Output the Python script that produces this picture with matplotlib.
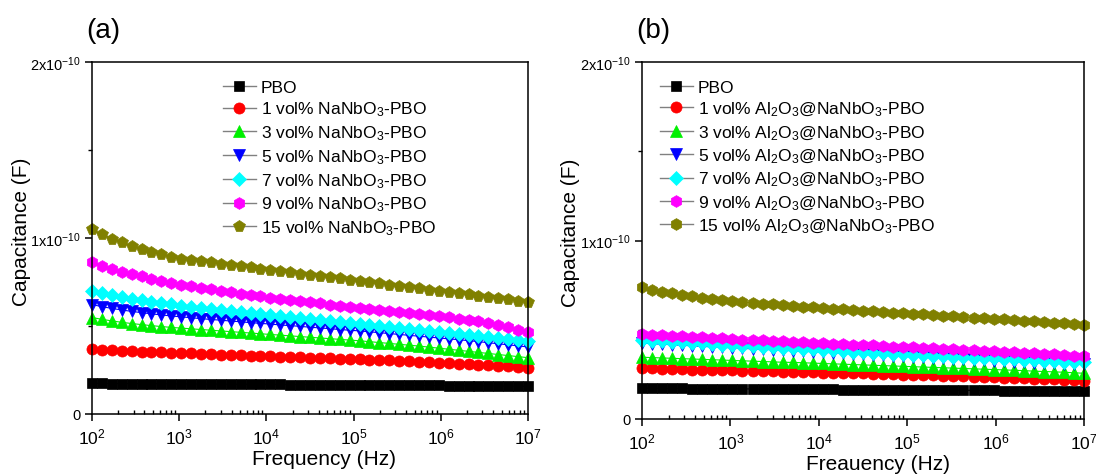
import numpy as np
import matplotlib
matplotlib.use("Agg")
import matplotlib.pyplot as plt
from matplotlib.ticker import FixedLocator, FixedFormatter, LogLocator, NullFormatter

plt.rcParams['font.family'] = ['Liberation Sans', 'DejaVu Sans']
plt.rcParams['mathtext.fontset'] = 'custom'
plt.rcParams['mathtext.rm'] = 'Liberation Sans'
plt.rcParams['mathtext.it'] = 'Liberation Sans:italic'
plt.rcParams['mathtext.bf'] = 'Liberation Sans:bold'

# ---------------- data ----------------
# 45-point logarithmic frequency sweep, 100 Hz .. 10 MHz
freq = np.logspace(2, 7, 45)
unit = 1e-11  # capacitance values below are in units of 1e-11 F

labels_a = ['PBO', '1 vol% NaNbO$_3$-PBO', '3 vol% NaNbO$_3$-PBO', '5 vol% NaNbO$_3$-PBO',
            '7 vol% NaNbO$_3$-PBO', '9 vol% NaNbO$_3$-PBO', '15 vol% NaNbO$_3$-PBO']
labels_b = ['PBO', '1 vol% Al$_2$O$_3$@NaNbO$_3$-PBO', '3 vol% Al$_2$O$_3$@NaNbO$_3$-PBO',
            '5 vol% Al$_2$O$_3$@NaNbO$_3$-PBO', '7 vol% Al$_2$O$_3$@NaNbO$_3$-PBO',
            '9 vol% Al$_2$O$_3$@NaNbO$_3$-PBO', '15 vol% Al$_2$O$_3$@NaNbO$_3$-PBO']

a_pbo = [1.74, 1.74, 1.73, 1.73, 1.73, 1.72, 1.72, 1.72, 1.71, 1.71, 1.71, 1.70, 1.70, 1.70, 1.69,
         1.69, 1.69, 1.68, 1.68, 1.68, 1.67, 1.67, 1.67, 1.66, 1.66, 1.66, 1.65, 1.65, 1.65, 1.64,
         1.64, 1.63, 1.63, 1.63, 1.62, 1.62, 1.61, 1.61, 1.60, 1.60, 1.59, 1.59, 1.58, 1.58, 1.57]
a_1 = [3.70, 3.66, 3.63, 3.60, 3.57, 3.55, 3.52, 3.50, 3.48, 3.46, 3.44, 3.42, 3.40, 3.38, 3.36,
       3.34, 3.32, 3.30, 3.28, 3.26, 3.24, 3.22, 3.20, 3.18, 3.16, 3.14, 3.12, 3.10, 3.08, 3.06,
       3.04, 3.02, 3.00, 2.97, 2.94, 2.91, 2.88, 2.85, 2.82, 2.79, 2.76, 2.73, 2.70, 2.67, 2.64]
a_3 = [5.48, 5.38, 5.29, 5.21, 5.14, 5.08, 5.02, 4.97, 4.92, 4.88, 4.84, 4.80, 4.76, 4.72, 4.68,
       4.64, 4.60, 4.56, 4.52, 4.48, 4.44, 4.40, 4.36, 4.32, 4.28, 4.24, 4.20, 4.16, 4.11, 4.06,
       4.01, 3.96, 3.91, 3.86, 3.80, 3.74, 3.68, 3.62, 3.56, 3.50, 3.44, 3.38, 3.32, 3.26, 3.20]
a_5 = [6.22, 6.10, 6.00, 5.91, 5.83, 5.76, 5.69, 5.63, 5.57, 5.52, 5.47, 5.42, 5.37, 5.33, 5.28,
       5.24, 5.19, 5.15, 5.11, 5.06, 5.02, 4.98, 4.93, 4.89, 4.85, 4.80, 4.76, 4.72, 4.67, 4.62,
       4.57, 4.52, 4.47, 4.42, 4.37, 4.32, 4.27, 4.22, 4.17, 4.11, 4.05, 3.99, 3.93, 3.87, 3.81]
a_7 = [7.00, 6.85, 6.74, 6.64, 6.55, 6.46, 6.38, 6.30, 6.23, 6.16, 6.10, 6.04, 5.98, 5.93, 5.87,
       5.81, 5.75, 5.70, 5.64, 5.58, 5.52, 5.47, 5.41, 5.35, 5.29, 5.24, 5.18, 5.12, 5.06, 5.01,
       4.95, 4.89, 4.83, 4.78, 4.72, 4.66, 4.60, 4.55, 4.49, 4.43, 4.37, 4.32, 4.26, 4.20, 4.14]
a_9 = [8.62, 8.42, 8.24, 8.09, 7.95, 7.82, 7.69, 7.57, 7.46, 7.35, 7.26, 7.17, 7.08, 7.00, 6.92,
       6.84, 6.76, 6.68, 6.61, 6.54, 6.47, 6.40, 6.34, 6.28, 6.22, 6.16, 6.10, 6.04, 5.98, 5.92,
       5.86, 5.80, 5.74, 5.68, 5.62, 5.56, 5.49, 5.42, 5.35, 5.27, 5.16, 5.05, 4.93, 4.80, 4.64]
a_15 = [10.50, 10.22, 9.97, 9.75, 9.55, 9.37, 9.21, 9.07, 8.94, 8.82, 8.75, 8.68, 8.61, 8.54, 8.47,
        8.40, 8.33, 8.26, 8.19, 8.12, 8.05, 7.98, 7.91, 7.84, 7.77, 7.70, 7.63, 7.56, 7.49, 7.42,
        7.35, 7.28, 7.21, 7.14, 7.07, 7.00, 6.93, 6.86, 6.79, 6.72, 6.65, 6.58, 6.51, 6.44, 6.37]

b_pbo = [1.72, 1.72, 1.71, 1.71, 1.71, 1.70, 1.70, 1.70, 1.69, 1.69, 1.69, 1.68, 1.68, 1.68, 1.67,
         1.67, 1.67, 1.66, 1.66, 1.66, 1.65, 1.65, 1.65, 1.64, 1.64, 1.64, 1.63, 1.63, 1.63, 1.62,
         1.62, 1.61, 1.61, 1.61, 1.60, 1.60, 1.59, 1.59, 1.58, 1.58, 1.57, 1.57, 1.56, 1.56, 1.55]
b_1 = [2.84, 2.83, 2.81, 2.80, 2.79, 2.77, 2.76, 2.75, 2.73, 2.72, 2.71, 2.69, 2.68, 2.67, 2.65,
       2.64, 2.63, 2.61, 2.60, 2.59, 2.57, 2.56, 2.55, 2.53, 2.52, 2.50, 2.49, 2.47, 2.46, 2.44,
       2.43, 2.41, 2.39, 2.38, 2.36, 2.34, 2.32, 2.30, 2.28, 2.26, 2.24, 2.22, 2.20, 2.18, 2.15]
b_3 = [3.46, 3.44, 3.42, 3.40, 3.38, 3.36, 3.34, 3.32, 3.30, 3.28, 3.26, 3.24, 3.22, 3.20, 3.18,
       3.17, 3.15, 3.13, 3.11, 3.09, 3.07, 3.05, 3.03, 3.01, 2.99, 2.97, 2.95, 2.93, 2.91, 2.89,
       2.87, 2.85, 2.83, 2.81, 2.79, 2.77, 2.75, 2.73, 2.71, 2.68, 2.66, 2.64, 2.62, 2.59, 2.56]
b_5 = [4.25, 4.22, 4.19, 4.16, 4.13, 4.10, 4.07, 4.04, 4.01, 3.99, 3.96, 3.93, 3.90, 3.88, 3.85,
       3.82, 3.79, 3.77, 3.74, 3.71, 3.68, 3.65, 3.62, 3.59, 3.57, 3.54, 3.51, 3.48, 3.45, 3.42,
       3.40, 3.37, 3.34, 3.32, 3.29, 3.26, 3.24, 3.21, 3.19, 3.16, 3.14, 3.12, 3.10, 3.08, 3.06]
b_7 = [4.42, 4.38, 4.35, 4.32, 4.29, 4.26, 4.23, 4.20, 4.17, 4.14, 4.11, 4.08, 4.05, 4.02, 3.99,
       3.96, 3.93, 3.90, 3.87, 3.84, 3.81, 3.78, 3.75, 3.72, 3.69, 3.66, 3.63, 3.60, 3.57, 3.54,
       3.52, 3.49, 3.47, 3.44, 3.42, 3.39, 3.37, 3.34, 3.32, 3.29, 3.27, 3.25, 3.22, 3.20, 3.18]
b_9 = [4.77, 4.73, 4.69, 4.66, 4.63, 4.60, 4.57, 4.54, 4.51, 4.48, 4.45, 4.43, 4.40, 4.38, 4.35,
       4.33, 4.30, 4.28, 4.25, 4.22, 4.20, 4.17, 4.14, 4.12, 4.09, 4.06, 4.04, 4.01, 3.98, 3.96,
       3.93, 3.91, 3.88, 3.86, 3.83, 3.80, 3.77, 3.74, 3.71, 3.68, 3.65, 3.62, 3.58, 3.55, 3.51]
b_15 = [7.38, 7.25, 7.14, 7.04, 6.95, 6.87, 6.79, 6.72, 6.66, 6.60, 6.55, 6.50, 6.46, 6.42, 6.38,
        6.34, 6.30, 6.26, 6.22, 6.18, 6.14, 6.10, 6.07, 6.03, 6.00, 5.96, 5.93, 5.89, 5.86, 5.82,
        5.79, 5.75, 5.72, 5.68, 5.65, 5.61, 5.58, 5.54, 5.51, 5.47, 5.44, 5.40, 5.37, 5.33, 5.29]

series_a = [a_pbo, a_1, a_3, a_5, a_7, a_9, a_15]
series_b = [b_pbo, b_1, b_3, b_5, b_7, b_9, b_15]
colors = ['#000000', '#FF0000', '#00F000', '#0000FF', '#00FFFF', '#FF00FF', '#808000']
markers_a = ['s', 'o', '^', 'v', 'D', 'h', 'p']
markers_b = ['s', 'o', '^', 'v', 'D', 'h', 'h']
msizes = [7, 8, 8, 8, 7, 8.5, 8.5]

ytick_vals = [0, 1e-10, 2e-10]
ytick_labels = ['0', '1x10$^{-10}$', '2x10$^{-10}$']

W, H = 1096, 477
fig = plt.figure(figsize=(W / 100, H / 100), dpi=100)


def px_axes(l, t, r, b):
    return fig.add_axes([l / W, 1 - b / H, (r - l) / W, (b - t) / H])


def draw(ax, series, labels, markers, xlabel, legx, legy):
    for vals, lab, c, m, ms in zip(series, labels, colors, markers, msizes):
        ax.plot(freq, np.array(vals) * unit, color=c, marker=m, markersize=ms,
                markeredgewidth=0.5, markeredgecolor=c, linestyle='-', linewidth=0.8,
                label=lab, clip_on=False)
    ax.set_xscale('log')
    ax.set_xlim(1e2, 1e7)
    ax.set_ylim(0, 2e-10)
    ax.yaxis.set_major_locator(FixedLocator(ytick_vals))
    ax.yaxis.set_major_formatter(FixedFormatter(ytick_labels))
    ax.yaxis.set_minor_locator(FixedLocator([0.5e-10, 1.5e-10]))
    ax.xaxis.set_major_locator(LogLocator(base=10, numticks=10))
    ax.xaxis.set_minor_locator(LogLocator(base=10, subs=np.arange(2, 10), numticks=20))
    ax.xaxis.set_minor_formatter(NullFormatter())
    ax.tick_params(axis='x', which='major', direction='out', length=5, width=1.1,
                   labelsize=12.5, pad=4)
    ax.tick_params(axis='x', which='minor', direction='in', length=3, width=1.0)
    ax.tick_params(axis='y', which='major', direction='out', length=5, width=1.1,
                   labelsize=10.5, pad=3)
    ax.tick_params(axis='y', which='minor', direction='out', length=3, width=1.0)
    for s in ax.spines.values():
        s.set_linewidth(1.1)
    ax.set_xlabel(xlabel, fontsize=15)
    ax.set_ylabel('Capacitance (F)', fontsize=15)
    handles, labs = ax.get_legend_handles_labels()
    leg = ax.legend(handles, labs, loc='upper left', bbox_to_anchor=(legx, legy),
                    frameon=False, fontsize=12.5, handlelength=1.9, handletextpad=0.3,
                    labelspacing=0.29, borderpad=0, borderaxespad=0)
    for ln in leg.get_lines():
        ln.set_color('#808080')
        ln.set_linewidth(1.0)
    for h, c in zip(leg.legend_handles, colors):
        h.set_markerfacecolor(c)
        h.set_markeredgecolor(c)
    return ax


ax1 = px_axes(92, 63, 528, 415)
draw(ax1, series_a, labels_a, markers_a, 'Frequency (Hz)', 0.30, 0.950)
ax1.xaxis.set_label_coords(0.532, -0.10)
ax1.yaxis.set_label_coords(-0.141, 0.52)

ax2 = px_axes(642, 63, 1084, 420)
draw(ax2, series_b, labels_b, markers_b, 'Freauency (Hz)', 0.04, 0.951)
ax2.xaxis.set_label_coords(0.534, -0.098)
ax2.yaxis.set_label_coords(-0.140, 0.525)

fig.text(86 / W, 1 - 31 / H, '(a)', fontsize=20, ha='left', va='center')
fig.text(636 / W, 1 - 31 / H, '(b)', fontsize=20, ha='left', va='center')

fig.savefig('out.png', dpi=100)
